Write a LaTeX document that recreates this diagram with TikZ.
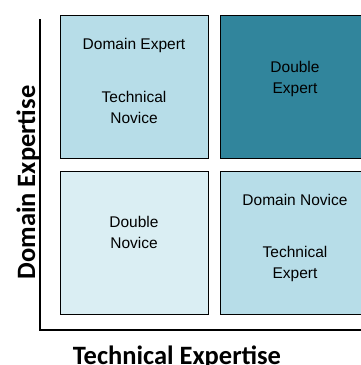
\documentclass[tikz,border=0pt]{standalone}
\usepackage{fontspec}
\setmainfont{Liberation Sans}
\newfontfamily\axisfont{Carlito}
\usetikzlibrary{positioning}

\definecolor{paleblue}{HTML}{DAEEF3}
\definecolor{midblue}{HTML}{B7DDE8}
\definecolor{darkteal}{HTML}{31859C}

\tikzset{
  quad/.style={draw=black,line width=1.4pt,minimum width=148pt,minimum height=143pt,
    inner sep=0pt,anchor=north west},
  quadtext/.style={align=center,anchor=base,font=\fontsize{15.5}{20.5}\selectfont},
  axislabel/.style={anchor=base,font=\axisfont\bfseries\fontsize{26.5}{30}\selectfont}
}

\begin{document}
\begin{tikzpicture}[x=1pt,y=-1pt]
  \useasboundingbox (0,0) rectangle (361,365);
  \clip (0,0) rectangle (361,365);

  % the four quadrants
  \node (tl) [quad,fill=midblue] at (60,15) {};
  \node (tr) [quad,fill=darkteal] at (220,15) {};
  \node (bl) [quad,fill=paleblue] at (60,171) {};
  \node (br) [quad,fill=midblue] at (220,171) {};

  % texts (base = baseline of last line)
  \node (tla) [quadtext] at (134,49) {Domain Expert};
  \node (tlb) [quadtext] at (134,123) {Technical\\Novice};
  \node (tra) [quadtext] at (295,93) {Double\\Expert};
  \node (bla) [quadtext] at (134,248) {Double\\Novice};
  \node (bra) [quadtext] at (295,205) {Domain Novice};
  \node (brb) [quadtext] at (295,278) {Technical\\Expert};

  % axes
  \coordinate (ytop) at (40,19);
  \coordinate (orig) at (40,330);
  \coordinate (xend) at (370,330);
  \draw[line width=1.6pt] (ytop) -- (orig) -- (xend);

  \node (xl) [axislabel] at (177,364.5) {Technical Expertise};
  \node (yl) [axislabel,rotate=90] at (35,182.5) {Domain Expertise};
\end{tikzpicture}
\end{document}
